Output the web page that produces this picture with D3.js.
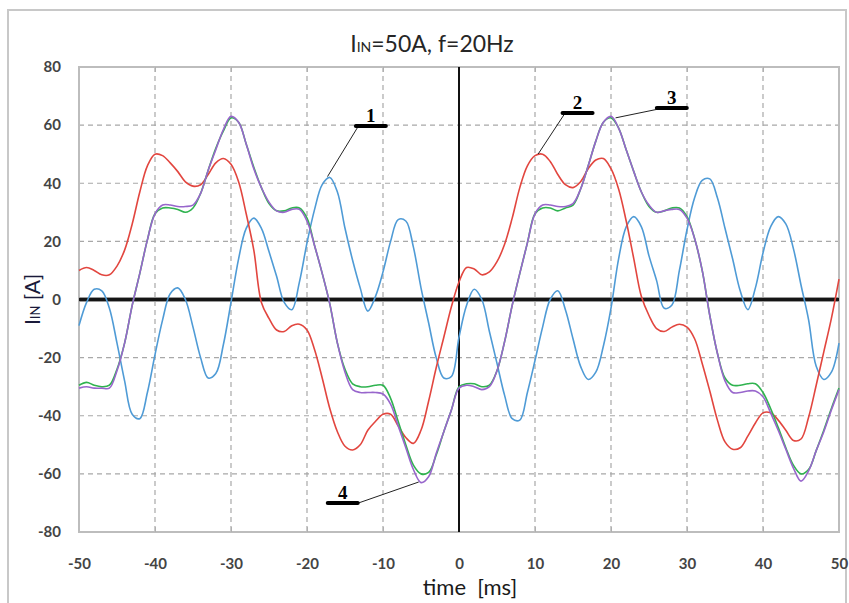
<!DOCTYPE html>
<html>
<head>
<meta charset="utf-8">
<script src="https://cdn.jsdelivr.net/npm/d3@7"></script>
<style>
  html, body { margin: 0; padding: 0; background: #fff; }
  svg text { font-family: Lato, "Liberation Sans", Arial, sans-serif; }
</style>
</head>
<body>
<svg id="chart" width="849" height="603"></svg>
<script>
// Sample instants, one per millisecond
const timeMs = d3.range(-50, 51, 1);

// Phase currents (A)
const currentBlue = [
  -9, -1, 3.5, 3, -3, -15, -28, -39.5, -41, -32,
  -19, -7, 2, 4, 0, -9.5, -20, -27, -25.5, -15.5,
  -1, 14, 24.5, 28, 24.5, 16.5, 8, -1, -3.5, 6,
  19.5, 31, 39.5, 42, 37, 24.5, 13.5, 4, -4, 1,
  9.5, 20, 27.5, 27, 18, 4, -8, -20, -27, -26.5,
  -13, -2, 3.5, 0, -11, -22, -33, -41, -41.5, -32,
  -21, -9.5, 0, 3, -3.5, -13.5, -23, -27.5, -25, -16,
  -3, 14, 25, 28.5, 25, 15, 6.5, -3, -2, 10,
  24, 35, 41, 41.5, 35, 24.5, 14, 3, -3.5, 4,
  16, 25, 28.5, 26, 17.5, 5, -7, -23, -27.5, -25,
  -15
];
const currentRed = [
  10, 11, 10, 8.5, 8.5, 11.5, 17, 26, 37, 46,
  50, 49.5, 47, 44, 40.5, 39, 39.5, 43, 47, 48.5,
  46.5, 40.5, 29.5, 17, -1, -6.5, -10.5, -11, -9, -8.5,
  -10.5, -17.3, -27, -37.5, -45.5, -50.5, -51.8, -50, -45, -42,
  -39.5, -39.5, -43.5, -47.5, -49.5, -45, -35, -23.5, -13, -2.5,
  6, 11, 10.5, 8.5, 9.5, 13, 19, 28, 38.5, 46,
  49.5, 50, 47.5, 43, 39.5, 38.5, 40.5, 45, 48, 48.5,
  45, 38, 27, 14, 1, -5.5, -10, -11, -9.5, -8.5,
  -9.5, -13.5, -22, -31.5, -41.5, -49, -51.5, -51, -47, -42.5,
  -39, -39, -41.5, -45, -48.5, -48, -40.5, -29.5, -18, -6.5,
  7
];
const currentGreen = [
  -29.5, -28.5, -29.5, -30, -29.5, -24, -15, -2, 9, 20.5,
  29.5, 31.5, 31.5, 31, 30, 31.5, 36.5, 44.5, 52, 58,
  62.5, 61, 53.5, 45.5, 38.5, 33, 30.5, 30.5, 31.5, 31.5,
  28, 18.5, 9, -1.5, -15, -24, -29, -30, -30, -29.5,
  -29.5, -34, -42, -50, -57, -60, -59.5, -53.5, -45.5, -38,
  -30, -29, -29, -30, -29.5, -24.5, -14.5, -2, 9, 19.5,
  29.5, 31.5, 31.5, 30.5, 31.5, 32.5, 38, 46, 54.5, 61,
  62.5, 59, 51.5, 44, 37, 32, 30, 30.5, 31.5, 31.5,
  28.5, 21, 10, -5.5, -18.5, -27, -29.5, -29.5, -29, -29,
  -32, -37.5, -44, -51, -57, -60, -58.5, -52, -45, -37.5,
  -30.5
];
const currentPurple = [
  -30.5, -30, -30.5, -30.5, -30.5, -24.5, -15, -2, 9, 20.5,
  29.5, 32.5, 32.5, 32, 32, 32.5, 36.5, 44.5, 51.5, 58.5,
  63, 61, 53.5, 45, 38.5, 33.5, 30.5, 30, 31, 31,
  27, 18.5, 9, -1.5, -15, -25, -31, -32, -32, -32,
  -32.5, -36, -43.5, -51, -58.5, -63, -61, -53, -45.5, -38,
  -30.5, -29.5, -30, -31, -30, -24.5, -14.5, -2, 9, 19.5,
  29.5, 32.5, 32.5, 32, 32, 33, 38, 46, 54.5, 61,
  63, 59, 51.5, 44, 37, 32.5, 30, 30.5, 31, 31,
  28, 21, 10, -5.5, -18.5, -28, -32, -32, -31.5, -31.5,
  -33.5, -39, -45, -51.5, -58, -62.5, -59, -52, -45.5, -38,
  -31
];

const xTicks = [-50, -40, -30, -20, -10, 0, 10, 20, 30, 40, 50];
const yTicks = [-80, -60, -40, -20, 0, 20, 40, 60, 80];
const xGrid = [-40, -30, -20, -10, 10, 20, 30, 40];
const yGrid = [-60, -40, -20, 20, 40, 60];

// Numbered callouts: anchor on a curve, label position (data units)
const calloutLabels = ["1", "2", "3", "4"];
const calloutAnchorT = [-17.3, 10.4, 20.6, -5.3];
const calloutAnchorV = [42.3, 50, 62.5, -62.8];
const calloutLabelT = [-11.6, 15.6, 28, -15.3];
const calloutLabelV = [59.7, 64.2, 65.9, -70];
const calloutSide = [-1, -1, -1, 1];   // which bar end the leader leaves from

const series = [
  { values: currentBlue,   color: "#4f9bd6" },
  { values: currentRed,    color: "#e2463f" },
  { values: currentGreen,  color: "#2fb34f" },
  { values: currentPurple, color: "#9866cc" }
];

const svg = d3.select("#chart");
const plotL = 79, plotR = 839, plotT = 67, plotB = 532;

const x = d3.scaleLinear().domain([-50, 50]).range([plotL, plotR]);
const y = d3.scaleLinear().domain([-80, 80]).range([plotB, plotT]);
const plainNumber = d => String(d);   // keep the short hyphen-minus

// outer border of the figure
svg.append("path")
  .attr("d", "M8,603 L8,10 L846,10 L846,603")
  .attr("fill", "none").attr("stroke", "#c8c8c8").attr("stroke-width", 2);

// grid
const grid = svg.append("g");
grid.selectAll("line.gx").data(xGrid).join("line")
  .attr("x1", d => x(d)).attr("x2", d => x(d))
  .attr("y1", plotT).attr("y2", plotB)
  .attr("stroke", "#a8a8a8").attr("stroke-width", 1.2).attr("stroke-dasharray", "5,4");
grid.selectAll("line.gy").data(yGrid).join("line")
  .attr("x1", plotL).attr("x2", plotR)
  .attr("y1", d => y(d)).attr("y2", d => y(d))
  .attr("stroke", "#a8a8a8").attr("stroke-width", 1.2).attr("stroke-dasharray", "5,4");

// plot frame
svg.append("rect")
  .attr("x", plotL).attr("y", plotT).attr("width", plotR - plotL).attr("height", plotB - plotT)
  .attr("fill", "none").attr("stroke", "#bdbdbd").attr("stroke-width", 2);

// short inward ticks on the top and bottom frame
svg.append("g").attr("transform", `translate(0,${plotB})`)
  .call(d3.axisTop(x).tickValues(xTicks.slice(1, -1)).tickSize(5).tickFormat(""))
  .call(g => g.select(".domain").remove())
  .selectAll("line").attr("stroke", "#b0b0b0");
svg.append("g").attr("transform", `translate(0,${plotT})`)
  .call(d3.axisBottom(x).tickValues(xTicks.slice(1, -1)).tickSize(5).tickFormat(""))
  .call(g => g.select(".domain").remove())
  .selectAll("line").attr("stroke", "#b0b0b0");

// zero axes
svg.append("line")
  .attr("x1", plotL).attr("x2", plotR).attr("y1", y(0)).attr("y2", y(0))
  .attr("stroke", "#9a9a9a").attr("stroke-width", 5);
svg.append("line")
  .attr("x1", plotL).attr("x2", plotR).attr("y1", y(0)).attr("y2", y(0))
  .attr("stroke", "#151515").attr("stroke-width", 3);
svg.append("line")
  .attr("x1", x(0)).attr("x2", x(0)).attr("y1", plotT).attr("y2", plotB)
  .attr("stroke", "#111").attr("stroke-width", 2);

// current traces
const line = d3.line()
  .x((d, i) => x(timeMs[i]))
  .y(d => y(d))
  .curve(d3.curveCatmullRom.alpha(0.5));

svg.append("g").selectAll("path").data(series).join("path")
  .attr("d", s => line(s.values))
  .attr("fill", "none")
  .attr("stroke", s => s.color)
  .attr("stroke-width", 1.6)
  .attr("stroke-linejoin", "round");

// callouts
const barHalf = 15;
const callouts = svg.append("g");
calloutLabels.forEach((lab, i) => {
  const cx = x(calloutLabelT[i]), cy = y(calloutLabelV[i]);
  const ex = cx + calloutSide[i] * (barHalf - 2);
  callouts.append("line")
    .attr("x1", ex).attr("y1", cy + 1)
    .attr("x2", x(calloutAnchorT[i])).attr("y2", y(calloutAnchorV[i]))
    .attr("stroke", "#222").attr("stroke-width", 1);
  callouts.append("line")
    .attr("x1", cx - barHalf).attr("x2", cx + barHalf)
    .attr("y1", cy).attr("y2", cy)
    .attr("stroke", "#000").attr("stroke-width", 4).attr("stroke-linecap", "round");
  callouts.append("text")
    .attr("x", cx).attr("y", cy - 4)
    .attr("text-anchor", "middle")
    .style("font-family", "'Liberation Serif', 'DejaVu Serif', serif")
    .style("font-weight", "bold").style("font-size", "19px")
    .attr("fill", "#000")
    .text(lab);
});

// tick labels
svg.append("g").attr("transform", `translate(0,${plotB})`)
  .call(d3.axisBottom(x).tickValues(xTicks).tickSize(0).tickPadding(26).tickFormat(plainNumber))
  .call(g => g.select(".domain").remove())
  .selectAll("text")
  .style("font-family", "Lato, 'Liberation Sans', sans-serif")
  .style("font-size", "15px").style("font-weight", "bold").attr("fill", "#444");

svg.append("g").attr("transform", `translate(${plotL},0)`)
  .call(d3.axisLeft(y).tickValues(yTicks).tickSize(0).tickPadding(18).tickFormat(plainNumber))
  .call(g => g.select(".domain").remove())
  .selectAll("text")
  .style("font-family", "Lato, 'Liberation Sans', sans-serif")
  .style("font-size", "15px").style("font-weight", "bold").attr("fill", "#444");

// title
const title = svg.append("text")
  .attr("x", 432).attr("y", 52).attr("text-anchor", "middle")
  .style("font-size", "23px").attr("fill", "#262626");
title.append("tspan").text("I");
title.append("tspan").style("font-size", "14px").text("IN");
title.append("tspan").text("=50A, f=20Hz");

// axis titles
svg.append("text")
  .attr("x", 470).attr("y", 595).attr("text-anchor", "middle")
  .style("font-size", "22px").style("white-space", "pre").attr("fill", "#1a1a1a")
  .text("time  [ms]");

const ylab = svg.append("text")
  .attr("transform", `translate(40,${y(0)}) rotate(-90)`)
  .attr("text-anchor", "middle")
  .style("font-size", "21px").attr("fill", "#1a1a3a");
ylab.append("tspan").text("I");
ylab.append("tspan").style("font-size", "13px").text("IN");
ylab.append("tspan").text(" [A]");
</script>
</body>
</html>
